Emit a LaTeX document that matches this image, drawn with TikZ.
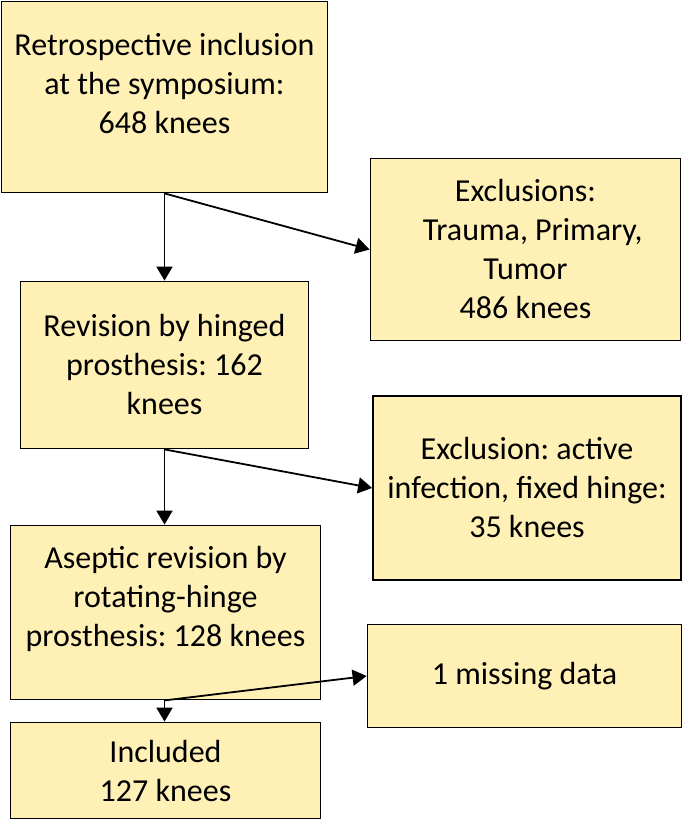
\documentclass[tikz,border=0pt]{standalone}
\usepackage{fontspec}
\setmainfont{Carlito}
\usetikzlibrary{arrows.meta}
\definecolor{boxfill}{RGB}{255,241,182}
\frenchspacing
\tikzset{
  box/.style={draw=black, line width=1.8pt, fill=boxfill, inner sep=0pt, anchor=center},
  txt/.style={align=center, font=\fontsize{32}{39}\selectfont, inner sep=0pt},
  arr/.style={line width=1.8pt, -{Triangle[length=14pt,width=16pt]}}
}
\begin{document}
\begin{tikzpicture}[x=1pt,y=-1pt]
\useasboundingbox (0,0) rectangle (684,822);
\node[box, minimum width=326pt, minimum height=191pt] (b1) at (164.5,97) {};
\node[txt] (t1) at (164.5,84) {Retrospective inclusion\\at the symposium:\\648 knees};
\node[box, txt, minimum width=310pt, minimum height=182pt] (b2) at (525.5,249.5) {Exclusions:\\\ \ Trauma, Primary,\\Tumor\\486 knees};
\node[box, txt, minimum width=288pt, minimum height=167pt] (b3) at (164.5,365) {Revision by hinged\\prosthesis: 162\\knees};
\node[box, txt, minimum width=308pt, minimum height=184pt] (b4) at (527,488) {Exclusion: active\\infection, fixed hinge:\\35 knees};
\node[box, minimum width=310pt, minimum height=174pt] (b5) at (165.5,612.5) {};
\node[txt] (t5) at (165.5,599) {Aseptic revision by\\rotating-hinge\\prosthesis: 128 knees};
\node[box, txt, minimum width=314pt, minimum height=103pt] (b6) at (524.5,676) {1 missing data};
\node[box, txt, minimum width=310pt, minimum height=96pt] (b7) at (165.5,770.5) {Included\\127 knees};
\draw[arr] (b1.south) -- (b3.north);
\draw[arr] (b1.south) -- (b2.west);
\draw[arr] (b3.south) -- (b3.south |- b5.north);
\draw[arr] (b3.south) -- (b4.west);
\draw[arr] (b3.south |- b5.south) -- (b3.south |- b7.north);
\draw[arr] (b3.south |- b5.south) -- (b6.west);
\end{tikzpicture}
\end{document}
